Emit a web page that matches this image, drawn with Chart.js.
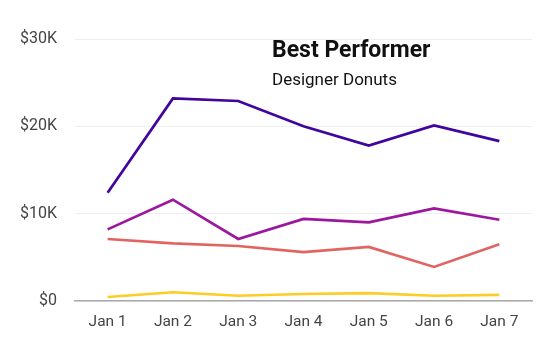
<!DOCTYPE html>
<html>
<head>
<meta charset="utf-8">
<script src="https://cdn.jsdelivr.net/npm/chart.js@4"></script>
<style>
  body { margin: 0; background: #fff; font-family: Roboto, sans-serif; }
  .wrap { position: relative; width: 544px; height: 346px; }
  .title { position: absolute; left: 272px; top: 36px; font-size: 23px; font-weight: 700; color: #111; line-height: 27px; }
  .subtitle { position: absolute; left: 272px; top: 69px; font-size: 17px; color: #111; line-height: 20px; }
</style>
</head>
<body>
<div class="wrap">
  <canvas id="salesChart"></canvas>
  <div class="title">Best Performer</div>
  <div class="subtitle">Designer Donuts</div>
</div>
<script>
// -------------------------------
// Data
// -------------------------------
const days = ['Jan 1', 'Jan 2', 'Jan 3', 'Jan 4', 'Jan 5', 'Jan 6', 'Jan 7'];
const designerDonuts = [12400, 23200, 22900, 20000, 17800, 20100, 18300];
const seriesTwo = [8200, 11600, 7100, 9400, 9000, 10600, 9300];
const seriesThree = [7100, 6600, 6300, 5600, 6200, 3900, 6500];
const seriesFour = [460, 1000, 600, 800, 900, 600, 700];
const yTicks = [0, 10000, 20000, 30000];

const colors = ['#41049d', '#9c179e', '#e16462', '#fccd25'];

// -------------------------------
// Chart
// -------------------------------
const ctx = document.getElementById('salesChart');
new Chart(ctx, {
  type: 'line',
  data: {
    labels: days,
    datasets: [designerDonuts, seriesTwo, seriesThree, seriesFour].map((data, i) => ({
      data,
      borderColor: colors[i],
      borderWidth: 2.7,
      pointRadius: 0,
      tension: 0,
      fill: false
    }))
  },
  options: {
    responsive: true,
    maintainAspectRatio: false,
    animation: false,
    layout: { padding: { top: 39, right: 12, left: 0, bottom: 0 } },
    plugins: { legend: { display: false }, tooltip: { enabled: false } },
    scales: {
      x: {
        offset: true,
        grid: { display: false, drawTicks: false },
        border: { color: '#aaa', width: 1.5 },
        ticks: { color: '#444', font: { family: 'Roboto', size: 15.5 }, padding: 12 },
        afterFit: s => { s.height = 45; }
      },
      y: {
        min: 0,
        max: 30000,
        afterBuildTicks: s => { s.ticks = yTicks.map(v => ({ value: v })); },
        grid: { color: '#eeeeee', drawTicks: false },
        border: { display: false },
        ticks: {
          color: '#444',
          font: { family: 'Roboto', size: 16 },
          padding: 18,
          callback: v => v === 0 ? '$0' : '$' + (v / 1000) + 'K'
        },
        afterFit: s => { s.width = 75; }
      }
    }
  }
});
</script>
</body>
</html>
